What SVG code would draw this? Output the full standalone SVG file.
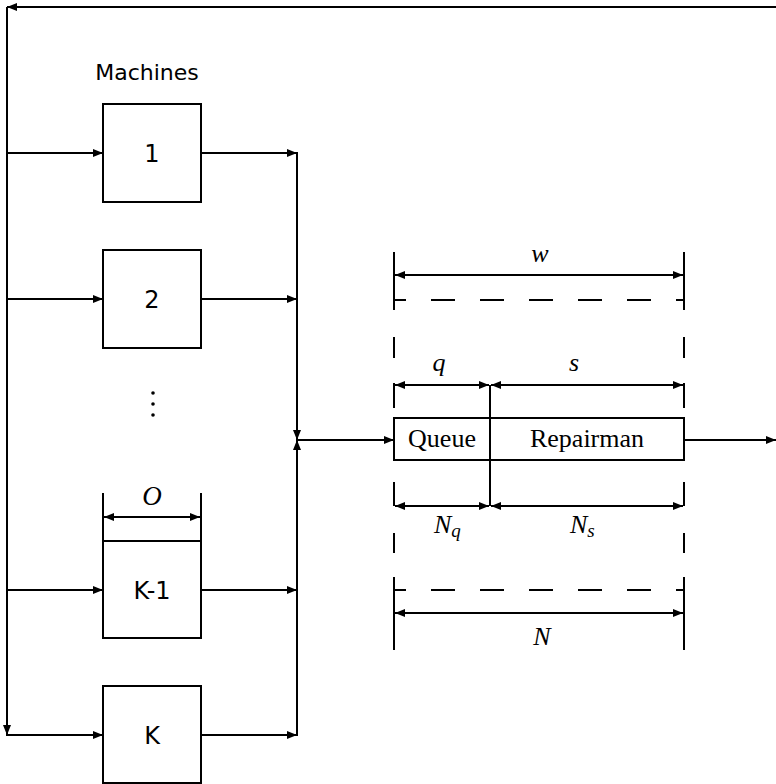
<svg xmlns="http://www.w3.org/2000/svg" width="776" height="784" viewBox="0 0 776 784">
<style>
.ln{stroke:#000;stroke-width:2;fill:none}
.bx{stroke:#000;stroke-width:2;fill:#fff}
.sans{font-family:"DejaVu Sans",sans-serif;fill:#000}
.ser{font-family:"Liberation Serif",serif;fill:#000}
.it{font-family:"Liberation Serif",serif;font-style:italic;fill:#000}
.dash{stroke:#000;stroke-width:2;fill:none;stroke-dasharray:24 25;stroke-dashoffset:12}
</style>
<defs>
<marker id="ah" viewBox="0 0 10 8" refX="10" refY="4" markerWidth="10" markerHeight="8" markerUnits="userSpaceOnUse" orient="auto">
<path d="M0,0 L10,4 L0,8 Z" fill="#000"/>
</marker>
<marker id="as" viewBox="0 0 10 8" refX="0" refY="4" markerWidth="10" markerHeight="8" markerUnits="userSpaceOnUse" orient="auto">
<path d="M10,0 L0,4 L10,8 Z" fill="#000"/>
</marker>
</defs>
<text class="sans" x="147" y="80" font-size="22" text-anchor="middle">Machines</text>
<g id="m1"><rect class="bx" x="103" y="104" width="98" height="98"/><text class="sans" x="152" y="162" font-size="24" text-anchor="middle">1</text></g>
<g id="m2"><rect class="bx" x="103" y="250" width="98" height="98"/><text class="sans" x="152" y="308" font-size="24" text-anchor="middle">2</text></g>
<g id="dots"><circle cx="153" cy="393" r="1.8"/><circle cx="153" cy="404" r="1.8"/><circle cx="153" cy="415" r="1.8"/></g>
<g id="mk1"><rect class="bx" x="103" y="541" width="98" height="97"/><text class="sans" x="152" y="599" font-size="24" text-anchor="middle">K-1</text></g>
<g id="mk"><rect class="bx" x="103" y="686" width="98" height="97"/><text class="sans" x="152" y="744" font-size="24" text-anchor="middle">K</text></g>
<g id="odim">
<line class="ln" x1="103" y1="493" x2="103" y2="541"/>
<line class="ln" x1="201" y1="493" x2="201" y2="541"/>
<line class="ln" x1="104" y1="517" x2="200" y2="517" marker-start="url(#as)" marker-end="url(#ah)"/>
<text class="it" x="152" y="505" font-size="27" text-anchor="middle">O</text>
</g>
<g id="server">
<rect class="bx" x="394" y="418" width="290" height="42"/>
<text class="ser" x="442" y="447" font-size="26" text-anchor="middle">Queue</text>
<text class="ser" x="587" y="447" font-size="26" text-anchor="middle">Repairman</text>
</g>
<g id="dims">
<path class="ln" d="M394,252V310M684,252V310M394,337V358M684,337V358M394,383V408M684,383V408M394,482V506M684,482V506M394,533V553M684,533V553M394,577V650M684,577V650M490,385V506"/>
<line class="ln" x1="395" y1="275" x2="683" y2="275" marker-start="url(#as)" marker-end="url(#ah)"/>
<line class="dash" x1="394" y1="300" x2="684" y2="300"/>
<line class="ln" x1="395" y1="385" x2="489" y2="385" marker-start="url(#as)" marker-end="url(#ah)"/>
<line class="ln" x1="491" y1="385" x2="683" y2="385" marker-start="url(#as)" marker-end="url(#ah)"/>
<line class="ln" x1="395" y1="506" x2="489" y2="506" marker-start="url(#as)" marker-end="url(#ah)"/>
<line class="ln" x1="491" y1="506" x2="683" y2="506" marker-start="url(#as)" marker-end="url(#ah)"/>
<line class="dash" x1="394" y1="590" x2="684" y2="590"/>
<line class="ln" x1="395" y1="613" x2="683" y2="613" marker-start="url(#as)" marker-end="url(#ah)"/>
<text class="it" x="540" y="262" font-size="26" text-anchor="middle">w</text>
<text class="it" x="439" y="371" font-size="26" text-anchor="middle">q</text>
<text class="it" x="574" y="371" font-size="26" text-anchor="middle">s</text>
<text class="it" x="434" y="533" font-size="26">N<tspan font-size="19" dy="4">q</tspan></text>
<text class="it" x="570" y="533" font-size="26">N<tspan font-size="19" dy="4">s</tspan></text>
<text class="it" x="542" y="645" font-size="26" text-anchor="middle">N</text>
</g>
<g id="connectors">
<line class="ln" x1="776" y1="7" x2="7" y2="7" marker-end="url(#ah)"/>
<line class="ln" x1="7" y1="7" x2="7" y2="735" marker-end="url(#ah)"/>
<line class="ln" x1="7" y1="153" x2="103" y2="153" marker-end="url(#ah)"/>
<line class="ln" x1="7" y1="299" x2="103" y2="299" marker-end="url(#ah)"/>
<line class="ln" x1="7" y1="590" x2="103" y2="590" marker-end="url(#ah)"/>
<line class="ln" x1="6" y1="735" x2="103" y2="735" marker-end="url(#ah)"/>
<line class="ln" x1="201" y1="153" x2="297" y2="153" marker-end="url(#ah)"/>
<line class="ln" x1="201" y1="299" x2="297" y2="299" marker-end="url(#ah)"/>
<line class="ln" x1="201" y1="590" x2="297" y2="590" marker-end="url(#ah)"/>
<line class="ln" x1="201" y1="735" x2="297" y2="735" marker-end="url(#ah)"/>
<line class="ln" x1="297" y1="152" x2="297" y2="440" marker-end="url(#ah)"/>
<line class="ln" x1="297" y1="736" x2="297" y2="440" marker-end="url(#ah)"/>
<line class="ln" x1="297" y1="440" x2="394" y2="440" marker-end="url(#ah)"/>
<line class="ln" x1="684" y1="440" x2="776" y2="440" marker-end="url(#ah)"/>
</g>
</svg>
